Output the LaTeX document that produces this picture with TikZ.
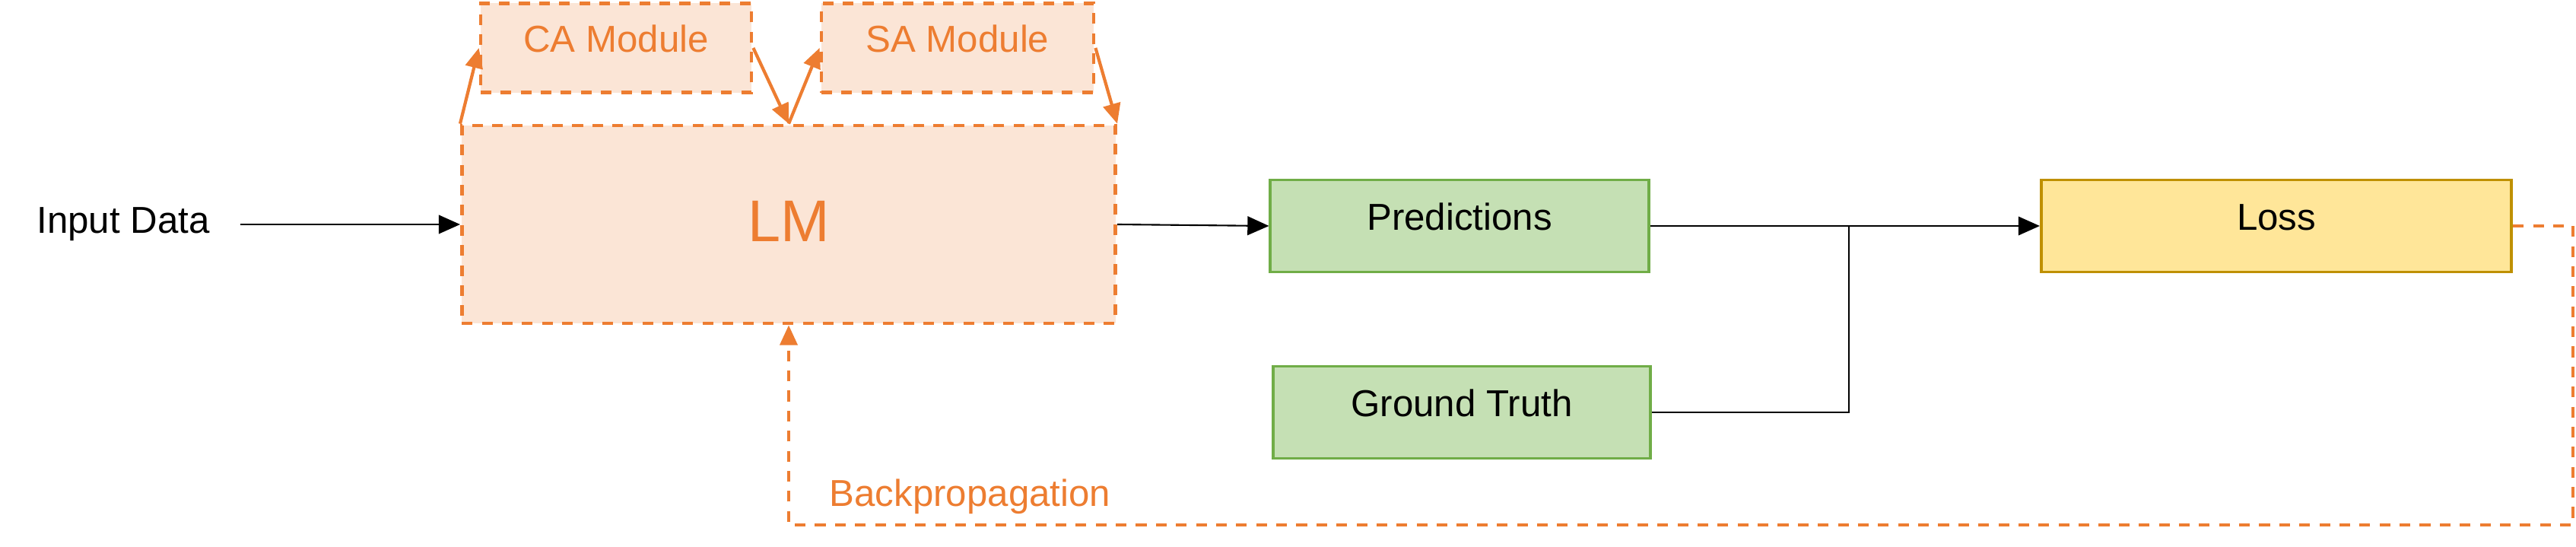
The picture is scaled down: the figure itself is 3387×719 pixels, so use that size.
\documentclass[tikz,border=0pt]{standalone}
\usepackage{fontspec}
\setsansfont{Liberation Sans}
\usepackage{tikz}
\usetikzlibrary{arrows.meta,positioning,calc}
\definecolor{bporange}{HTML}{ED7D31}
\definecolor{bppeach} {HTML}{FBE5D6}
\definecolor{bpgreen} {HTML}{70AD47}
\definecolor{bpmint}  {HTML}{C5E0B4}
\definecolor{bpgold}  {HTML}{BF9000}
\definecolor{bpcream} {HTML}{FFE699}
\tikzset{
  bpfont/.style={font=\sffamily\fontsize{14}{17}\selectfont},
  bpbox/.style={bpfont, inner sep=0pt, text height=0.75em, text depth=0.41em},
  bpmodule/.style={bpbox, draw=bporange, fill=bppeach, dashed, line width=1.3pt,
                   dash pattern=on 4pt off 3.5pt, text=bporange},
  bpdata/.style={bpbox, draw=bpgreen, fill=bpmint, line width=1.1pt},
  bploss/.style={bpbox, draw=bpgold, fill=bpcream, line width=1.1pt},
  bpedge/.style={-{Triangle[length=8pt,width=7pt]}, draw=black, line width=0.6pt},
  bplink/.style={draw=black, line width=0.6pt},
  bpattn/.style={-{Triangle[length=7.5pt,width=6.5pt]}, draw=bporange, line width=1.2pt},
  bpback/.style={-{Triangle[length=7.5pt,width=6.5pt]}, draw=bporange, line width=1.3pt,
                 dash pattern=on 4pt off 3.5pt},
  bplabel/.style={bpfont, text=bporange},
}
\begin{document}
\begin{tikzpicture}[x=0.01cm, y=-0.01cm]
  \useasboundingbox (0,0) rectangle (3387,719);

  \node[bpfont] (in) at (162,295) {Input Data};
  \node[bpmodule, minimum width=8.59cm, minimum height=2.6cm, text height=16pt, text depth=3pt,
        font=\sffamily\fontsize{22}{26}\selectfont] (LM) at (1037,295) {LM};
  \node[bpmodule, minimum width=3.56cm, minimum height=1.17cm] (CA) at (810,63) {CA Module};
  \node[bpmodule, minimum width=3.58cm, minimum height=1.17cm] (SA) at (1259,63) {SA Module};
  \node[bpdata, minimum width=4.97cm, minimum height=1.21cm] (pred) at (1919,297) {Predictions};
  \node[bpdata, minimum width=4.95cm, minimum height=1.21cm] (gt) at (1922,542) {Ground Truth};
  \node[bploss, minimum width=6.18cm, minimum height=1.21cm] (loss) at (2993,297) {Loss};

  \coordinate (jn) at (2431,297);
  \coordinate (bpc) at (3383,690);

  \draw[bpedge, shorten <=8pt] (in.east) -- (LM.west);
  \draw[bpedge] (LM.east) -- (pred.west);
  \draw[bpedge] (pred.east) -- (loss.west);
  \draw[bplink] (gt.east) -| (jn);

  % attention modules around the LM
  \draw[bpattn] (LM.north west) -- (CA.west);
  \draw[bpattn] (CA.east) -- (LM.north);
  \draw[bpattn] (LM.north) -- (SA.west);
  \draw[bpattn] (SA.east) -- (LM.north east);

  % gradient path back to the LM
  \draw[bpback] (loss.east) -| (bpc) -| (LM.south);
  \node[bplabel, anchor=base west, inner sep=0pt] (bp) at (1090,666) {Backpropagation};
\end{tikzpicture}
\end{document}
